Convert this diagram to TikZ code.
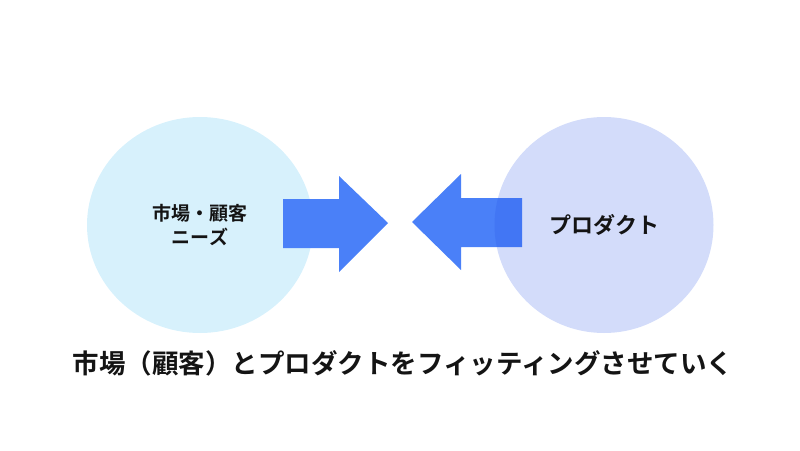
\documentclass[tikz,border=0pt]{standalone}
\usepackage{fontspec}
\usepackage{tikz}
\usetikzlibrary{shapes.geometric, positioning}
\newfontfamily\jpfont{Noto Sans CJK JP}[BoldFont={Noto Sans CJK JP Bold}]
\definecolor{marketcyan}{RGB}{215, 241, 252}
\definecolor{productblue}{RGB}{35, 80, 230}
\definecolor{arrowblue}{RGB}{74, 128, 248}
\definecolor{textblack}{RGB}{20, 20, 20}

\begin{document}
\begin{tikzpicture}[x=1pt, y=-1pt, every node/.style={text=textblack, font=\jpfont\bfseries},
    bigarrow/.style={fill=arrowblue, draw=none}]
    \useasboundingbox (0,0) rectangle (800,450);
    % Market circle
    \node (market) [ellipse, fill=marketcyan, minimum width=226pt, minimum height=216pt, inner sep=0pt] at (200,225) {};
    % Arrows
    \fill[bigarrow] (283,199) -- (339,199) -- (339,176) -- (388,223) -- (339,272) -- (339,248) -- (283,248) -- cycle;
    \fill[bigarrow] (522,198) -- (461,198) -- (461,174) -- (412,222) -- (461,270) -- (461,247) -- (522,247) -- cycle;
    % Product circle
    \node (product) [ellipse, fill=productblue, fill opacity=0.2, minimum width=219pt, minimum height=216pt, inner sep=0pt] at (604,225) {};
    % Labels
    \node (marketlabel) [align=center, font=\jpfont\bfseries\fontsize{19}{24}\selectfont] at (market.center) {市場・顧客\\ニーズ};
    \node (productlabel) [font=\jpfont\bfseries\fontsize{22}{26}\selectfont] at (product.center) {プロダクト};
    \node (caption) [font=\jpfont\bfseries\fontsize{26.5}{30}\selectfont] at (403,363) {市場（顧客）とプロダクトをフィッティングさせていく};
\end{tikzpicture}
\end{document}
